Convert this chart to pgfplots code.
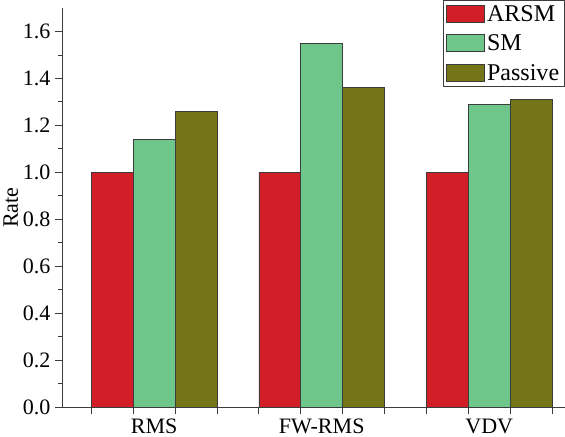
\documentclass[border=0pt]{standalone}
\usepackage{pgfplots}
\pgfplotsset{compat=1.18}
\usepackage{fontspec}
\setmainfont{Liberation Serif}
\definecolor{cred}{RGB}{210,30,38}
\definecolor{cgreen}{RGB}{111,198,138}
\definecolor{colive}{RGB}{116,116,24}
\definecolor{axgray}{RGB}{60,60,60}
\begin{document}
\begin{tikzpicture}
\begin{axis}[
  scale only axis,
  width=500bp, height=397bp,
  xmin=0.45, xmax=3.45,
  ymin=0, ymax=1.7,
  axis x line=bottom, axis y line=left,
  axis line style={-, draw=axgray, line width=0.8pt},
  ybar=0pt, bar width=0.25,
  ytick={0,0.2,...,1.6},
  minor y tick num=1,
  yticklabel style={/pgf/number format/fixed, /pgf/number format/fixed zerofill, /pgf/number format/precision=1, xshift=-1bp},
  /pgf/number format/assume math mode=true,
  xtick={0.625,0.875,1.125,1.375,1.625,1.875,2.125,2.375,2.625,2.875,3.125,3.375},
  xticklabels={},
  extra x ticks={1,2,3},
  extra x tick labels={RMS,FW-RMS,VDV},
  extra x tick style={major tick length=0pt},
  tick align=outside,
  major tick length=7bp, minor tick length=4bp,
  tick style={draw=axgray, line width=0.8pt},
  tick label style={font=\fontsize{22}{24}\selectfont},
  xticklabel style={yshift=-8bp},
  ylabel={Rate},
  ylabel style={font=\fontsize{22}{24}\selectfont, yshift=-2bp},
  legend style={at={(1,1.02)}, anchor=north east, draw=axgray, line width=0.8pt,
    font=\fontsize{24}{26}\selectfont, row sep=8bp, inner sep=3bp,
    /tikz/every even column/.append style={column sep=3bp}},
  legend image code/.code={\draw[#1, draw=axgray, line width=0.6pt] (0bp,-8bp) rectangle (38bp,9bp);},
  legend cell align=left,
]
\addplot[fill=cred, draw=axgray, line width=0.6pt] coordinates {(1,1.0) (2,1.0) (3,1.0)};
\addplot[fill=cgreen, draw=axgray, line width=0.6pt] coordinates {(1,1.14) (2,1.55) (3,1.29)};
\addplot[fill=colive, draw=axgray, line width=0.6pt] coordinates {(1,1.26) (2,1.36) (3,1.31)};
\legend{ARSM,SM,Passive}
\end{axis}
\end{tikzpicture}
\end{document}
